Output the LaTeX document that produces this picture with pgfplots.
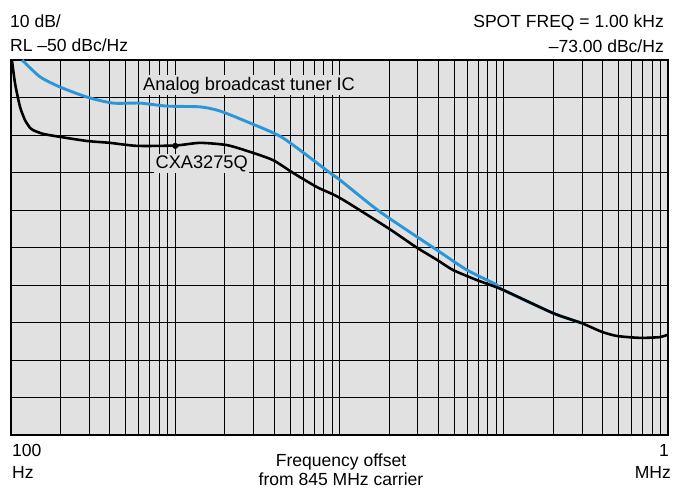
\documentclass[border=0pt]{standalone}
\usepackage{pgfplots}
\pgfplotsset{compat=1.18}
\usepackage{fontspec}
\setmainfont{Liberation Sans}
\definecolor{bgray}{HTML}{E1E1E1}
\definecolor{tblue}{HTML}{2A96D8}
\begin{document}
\fontsize{17.6}{20}\selectfont
\begin{tikzpicture}[x=1bp,y=1bp]
\path[use as bounding box] (0,0) rectangle (674,490);
\begin{axis}[
  at={(11bp,55bp)}, anchor=south west,
  scale only axis, width=657bp, height=375bp,
  xmode=log, xmin=100, xmax=1000000,
  ymin=-150, ymax=-50,
  ytick={-150,-140,...,-50},
  xtick={100,1000,10000,100000,1000000},
  minor x tick num=8,
  xticklabels={}, yticklabels={},
  major tick length=0pt, minor tick length=0pt,
  grid=both,
  major grid style={black, line width=0.9pt},
  minor grid style={black, line width=0.9pt},
  axis line style={black, line width=1.1pt},
  axis background/.style={fill=bgray},
  clip=true,
]
\addplot[tblue, line width=2.9pt, smooth, tension=0.4] coordinates {
(116.7,-50) (150.3,-54.5) (198.6,-57.2) (290.4,-59.9) (417.8,-61.5)
(609.5,-61.5) (891.3,-62.3) (1416,-62.5) (1871,-63.6) (2851,-66.8)
(4529,-70.8) (8750,-80.1) (10070,-82.0) (17660,-90.5) (39260,-100.7)
(59700,-106.0) (91000,-110.0) (98850,-111.3) (199500,-117.5) (295100,-120.1)
};
\addplot[black, line width=2.6pt, smooth, tension=0.4] coordinates {
(100,-48) (105.7,-56.1) (113.5,-62.5) (121.6,-66.0) (130.6,-68.1) (136.1,-68.7)
(156.7,-69.7) (198.6,-70.5) (290.4,-71.6) (400.9,-72.1) (584.8,-72.9)
(1000,-72.8) (1416,-72.1) (2065,-72.7) (2851,-74.5) (3936,-76.7) (5212,-80.1)
(7295,-83.9) (10070,-86.8) (19720,-94.8) (29240,-99.9) (39260,-103.3)
(49090,-106.0) (68710,-108.7) (98850,-111.3) (199500,-117.5) (295100,-120.1)
(396300,-122.5) (489800,-123.6) (676100,-124.1) (893100,-123.9) (986300,-123.3)
};
\addplot[only marks, mark=*, mark size=2.8pt, black] coordinates {(1000,-72.9)};
\node[fill=bgray, inner sep=1.5pt, font=\fontsize{18.3}{20}\selectfont] at (axis cs:2812,-56.8) {Analog broadcast tuner IC};
\node[fill=bgray, inner sep=1.5pt, font=\fontsize{18.3}{20}\selectfont] at (axis cs:1449,-77.6) {CXA3275Q};
\end{axis}
\node[anchor=base west, inner sep=0pt] at (10,462) {10 dB/};
\node[anchor=base west, inner sep=0pt] at (10,438) {RL –50 dBc/Hz};
\node[anchor=base east, inner sep=0pt] at (664,462.3) {SPOT FREQ = 1.00 kHz};
\node[anchor=base east, inner sep=0pt] at (664,437.3) {–73.00 dBc/Hz};
\node[anchor=base west, inner sep=0pt] at (12,33) {100};
\node[anchor=base west, inner sep=0pt] at (12,11) {Hz};
\node[anchor=base east, inner sep=0pt] at (669,33) {1};
\node[anchor=base east, inner sep=0pt] at (671,11) {MHz};
\node[anchor=base, inner sep=0pt] at (341,23.3) {Frequency offset};
\node[anchor=base, inner sep=0pt] at (341,4) {from 845 MHz carrier};
\end{tikzpicture}
\end{document}
